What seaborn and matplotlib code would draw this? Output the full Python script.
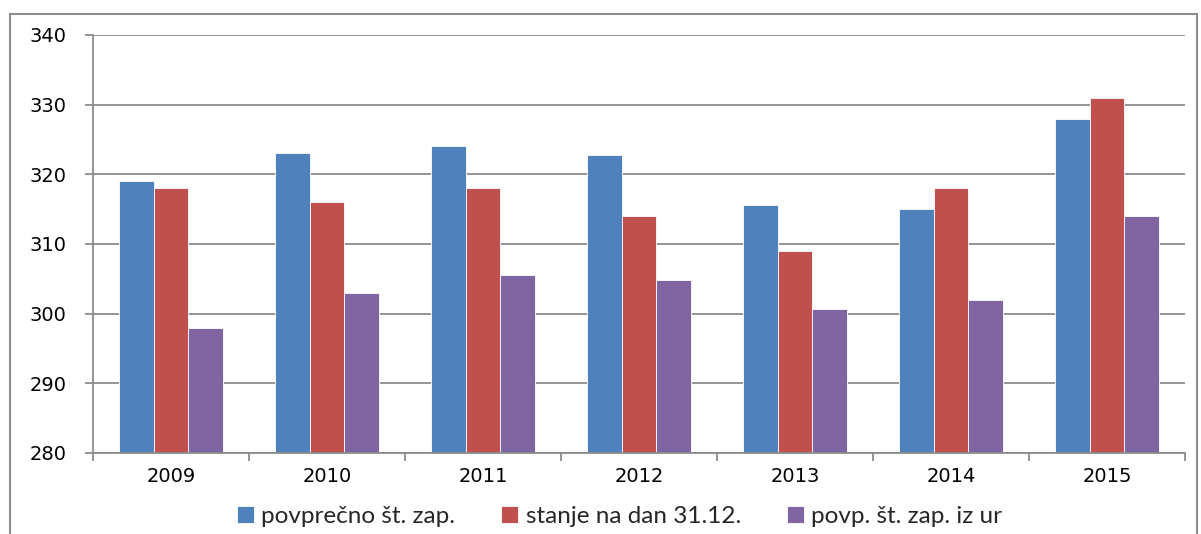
import pandas as pd
import matplotlib.pyplot as plt
from matplotlib.patches import Rectangle
import seaborn as sns
import numpy as np

years = ["2009", "2010", "2011", "2012", "2013", "2014", "2015"]
povprecno = [319, 323, 324, 322.8, 315.6, 315, 328]
stanje = [318, 316, 318, 314, 309, 318, 331]
povp_ur = [298, 303, 305.6, 304.8, 300.7, 302, 314]
series_names = ["povprečno št. zap.", "stanje na dan 31.12.", "povp. št. zap. iz ur"]
colors = ["#4F81BD", "#C0504D", "#8064A2"]

df = pd.DataFrame({
    "leto": years * 3,
    "vrednost": povprecno + stanje + povp_ur,
    "serija": [series_names[0]] * 7 + [series_names[1]] * 7 + [series_names[2]] * 7,
})

sns.set_style("white")
plt.rcParams["font.family"] = ["DejaVu Sans"]

fig = plt.figure(figsize=(12.01, 5.34), dpi=100)
ax = fig.add_axes([0.0774, 0.1517, 0.9093, 0.7828])

sns.barplot(data=df, x="leto", y="vrednost", hue="serija", palette=colors,
            width=0.667, edgecolor="white", linewidth=0.6, saturation=1, ax=ax)

ax.set_ylim(280, 340)
ax.set_xlim(-0.5, 6.5)
ax.set_yticks(np.arange(280, 341, 10))
ax.yaxis.grid(True, color="#8c8c8c", linewidth=1.3)
ax.set_axisbelow(True)
ax.set_xlabel("")
ax.set_ylabel("")

for side in ["top", "right"]:
    ax.spines[side].set_visible(False)
for side in ["left", "bottom"]:
    ax.spines[side].set_color("#8c8c8c")
    ax.spines[side].set_linewidth(1.3)

ax.tick_params(axis="y", left=True, length=6, width=1.3, color="#8c8c8c",
               labelsize=14, pad=13, labelcolor="black")
ax.tick_params(axis="x", which="major", length=0, labelsize=14, pad=10, labelcolor="black")
ax.set_xticks(np.arange(-0.5, 7, 1), minor=True)
ax.tick_params(axis="x", which="minor", bottom=True, length=6, width=1.3, color="#8c8c8c")

handles, labels = ax.get_legend_handles_labels()
ax.legend_.remove()
fig.legend(handles, labels, loc="center", bbox_to_anchor=(0.516, 0.033), ncol=3,
           frameon=False, handlelength=0.7, handleheight=0.7, handletextpad=0.3,
           columnspacing=1.9, prop={"family": "Lato", "size": 17.5})

fig.patches.append(Rectangle((10 / 1201, -0.1), 1187 / 1201, 1.1 - 14 / 534,
                             transform=fig.transFigure, fill=False,
                             edgecolor="#8c8c8c", linewidth=1.5))

fig.savefig("out.png", dpi=100)
